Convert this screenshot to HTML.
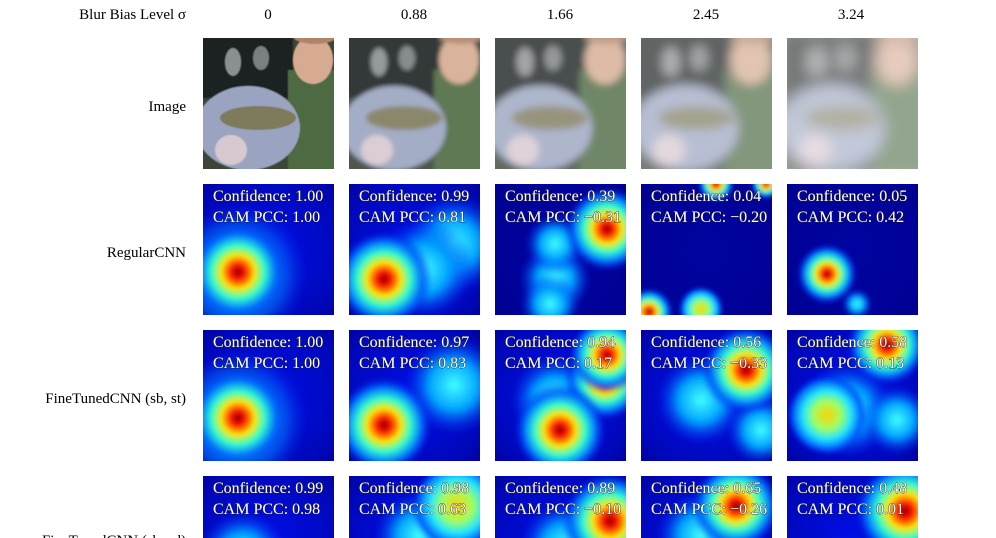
<!DOCTYPE html>
<html><head><meta charset="utf-8">
<style>
html,body{margin:0;padding:0;background:#fff;width:996px;height:538px;overflow:hidden}
svg{display:block}
text{font-family:"Liberation Serif",serif}
</style></head><body>
<svg id="s" width="996" height="538" xmlns="http://www.w3.org/2000/svg">
<defs>
<radialGradient id="jet"><stop offset="0" stop-color="#8a0000"/><stop offset="0.15" stop-color="#ff1000"/><stop offset="0.35" stop-color="#ffe800"/><stop offset="0.55" stop-color="#30ffd0"/><stop offset="0.78" stop-color="#0070ff"/><stop offset="1" stop-color="#0010e0" stop-opacity="0"/></radialGradient>
<radialGradient id="ye"><stop offset="0" stop-color="#ffd000"/><stop offset="0.35" stop-color="#a0ff60"/><stop offset="0.6" stop-color="#20e8ff"/><stop offset="0.85" stop-color="#0060ff"/><stop offset="1" stop-color="#0010e0" stop-opacity="0"/></radialGradient>
<radialGradient id="cy"><stop offset="0" stop-color="#40ffff"/><stop offset="0.5" stop-color="#00a0ff"/><stop offset="1" stop-color="#0020f0" stop-opacity="0"/></radialGradient>
<radialGradient id="bg"><stop offset="0" stop-color="#0010f0"/><stop offset="0.7" stop-color="#0008c0"/><stop offset="1" stop-color="#00008c"/></radialGradient>
<filter id="b1"><feGaussianBlur stdDeviation="0.6"/></filter>
<filter id="b2"><feGaussianBlur stdDeviation="2"/></filter>
<filter id="b3"><feGaussianBlur stdDeviation="3.5"/></filter>
<filter id="b4"><feGaussianBlur stdDeviation="5"/></filter>
<filter id="b5"><feGaussianBlur stdDeviation="7"/></filter>
</defs>
<g font-size="15" fill="#000">
<text x="186" y="19" text-anchor="end">Blur Bias Level σ</text>
<text x="268" y="19" text-anchor="middle">0</text>
<text x="414" y="19" text-anchor="middle">0.88</text>
<text x="560" y="19" text-anchor="middle">1.66</text>
<text x="706" y="19" text-anchor="middle">2.45</text>
<text x="851" y="19" text-anchor="middle">3.24</text>
<text x="186" y="111" text-anchor="end">Image</text>
<text x="186" y="257" text-anchor="end">RegularCNN</text>
<text x="186" y="403" text-anchor="end">FineTunedCNN (sb, st)</text>
<text x="186" y="545" text-anchor="end">FineTunedCNN (sb, sd)</text>
</g>
</svg>
<script>
var s=document.getElementById('s'),NS='http://www.w3.org/2000/svg';
function el(t,a,p){var e=document.createElementNS(NS,t);for(var k in a)e.setAttribute(k,a[k]);(p||s).appendChild(e);return e;}
var X=[203,349,495,641,787],W=131;
var blur=['b1','b2','b3','b4','b5'];
X.forEach(function(x,i){
 var cp=el('clipPath',{id:'ci'+i});el('rect',{x:x,y:38,width:W,height:W},cp);
 var g=el('g',{'clip-path':'url(#ci'+i+')'});
 var h=el('g',{filter:'url(#'+blur[i]+')'},g);
 var o=0.1*i;
 el('rect',{x:x-10,y:28,width:W+20,height:W+20,fill:'#3a4438'},h);
 el('rect',{x:x-10,y:28,width:100,height:70,fill:'#1e2420'},h);
 el('ellipse',{cx:x+30,cy:62,rx:8,ry:14,fill:'#8a9090'},h);
 el('ellipse',{cx:x+58,cy:58,rx:8,ry:12,fill:'#7a8080'},h);
 el('rect',{x:x+85,y:70,width:60,height:110,fill:'#4d6a42'},h);
 el('ellipse',{cx:x+110,cy:60,rx:20,ry:24,fill:'#d6ab92'},h);
 el('ellipse',{cx:x+112,cy:36,rx:22,ry:8,fill:'#b08468'},h);
 el('ellipse',{cx:x+45,cy:128,rx:52,ry:42,fill:'#9aa4c0'},h);
 el('ellipse',{cx:x+55,cy:118,rx:38,ry:12,fill:'#7e7a5c'},h);
 el('ellipse',{cx:x+28,cy:150,rx:16,ry:15,fill:'#d8c8d0'},h);
 el('rect',{x:x,y:38,width:W,height:W,fill:'#fff',opacity:o},g);
});
var H=[
 [[['cy',35,90,70],['jet',35,88,48]],[['cy',105,60,50],['cy',75,85,50],['jet',35,95,48]],[['cy',60,95,36],['cy',60,60,30],['cy',55,120,30],['jet',112,45,42]],[['jet',75,0,18],['jet',125,0,15],['jet',8,128,24],['ye',60,125,22]],[['cy',70,120,15],['jet',40,90,30]]],
 [[['cy',35,90,70],['jet',35,88,48]],[['cy',105,55,50],['jet',35,95,48]],[['cy',60,70,45],['jet',110,50,40],['jet',112,25,38],['jet',65,100,46]],[['cy',60,70,45],['cy',120,100,35],['jet',105,40,44]],[['cy',60,80,48],['cy',110,90,35],['ye',40,85,40],['jet',100,15,40]]],
 [[['cy',40,80,45]],[['cy',70,60,45],['ye',108,30,45]],[['cy',70,70,45],['jet',115,45,48]],[['cy',60,60,45],['jet',95,30,44]],[['cy',50,100,40],['jet',118,35,50]]]
];
var txt=[[['1.00','1.00'],['0.99','0.81'],['0.39','\u22120.31'],['0.04','\u22120.20'],['0.05','0.42']],
[['1.00','1.00'],['0.97','0.83'],['0.94','0.17'],['0.56','\u22120.33'],['0.58','0.13']],
[['0.99','0.98'],['0.98','0.63'],['0.89','\u22120.10'],['0.65','\u22120.26'],['0.48','0.01']]];
[184,330,476].forEach(function(y,r){X.forEach(function(x,i){
 var cp=el('clipPath',{id:'c'+r+i});el('rect',{x:x,y:y,width:W,height:W},cp);
 var g=el('g',{'clip-path':'url(#c'+r+i+')'});
 el('rect',{x:x,y:y,width:W,height:W,fill:'#00008c'},g);
 el('rect',{x:x-40,y:y-40,width:W+80,height:W+80,fill:'url(#bg)',opacity:(i<2||r>0)?0.9:0.2},g);
 var h=el('g',{filter:'url(#b2)'},g);
 H[r][i].forEach(function(b){el('circle',{cx:x+b[1],cy:y+b[2],r:b[3],fill:'url(#'+b[0]+')'},h);});
 var a={x:x+10,fill:'#fff','font-size':'16',stroke:'#222','stroke-width':'0.8','paint-order':'stroke'};
 a.y=y+17;var t=el('text',a,g);t.textContent='Confidence: '+txt[r][i][0];
 a.y=y+38;t=el('text',a,g);t.textContent='CAM PCC: '+txt[r][i][1];
});});
</script>
</body></html>
